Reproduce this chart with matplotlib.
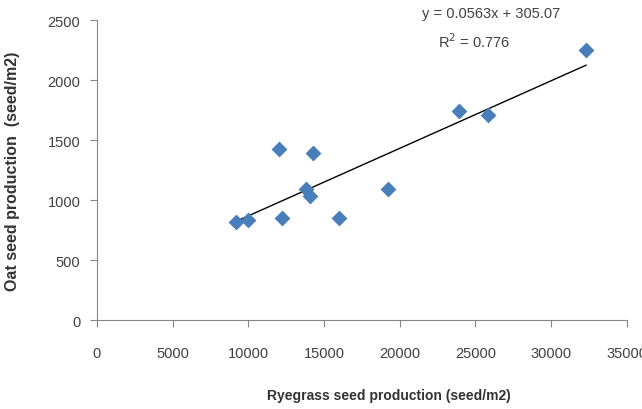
import numpy as np
import matplotlib.pyplot as plt

plt.rcParams['font.family'] = ['Liberation Sans Narrow', 'Liberation Sans', 'DejaVu Sans']

# Ryegrass vs oat seed production (seed/m2)
ryegrass = [9200, 10000, 12000, 12200, 13800, 14100, 14300, 16000, 19200, 23900, 25800, 32300]
oat = [820, 830, 1425, 850, 1090, 1030, 1395, 850, 1090, 1740, 1710, 2250]

# trendline from the chart
slope = 0.0563
intercept = 305.07
r2 = 0.776

fig = plt.figure(figsize=(6.42, 4.10), dpi=100)
ax = fig.add_axes([0.151, 0.217, 0.8255, 0.7317])

ax.scatter(ryegrass, oat, marker='D', s=65, color='#4A7EBB', zorder=3, linewidths=0)

xs = np.array([min(ryegrass), max(ryegrass)])
ax.plot(xs, slope * xs + intercept, color='black', lw=1, zorder=2)

ax.set_xlim(0, 35000)
ax.set_ylim(0, 2500)
ax.set_xticks(np.arange(0, 35001, 5000))
ax.set_yticks(np.arange(0, 2501, 500))

for s in ['top', 'right']:
    ax.spines[s].set_visible(False)
for s in ['left', 'bottom']:
    ax.spines[s].set_color('#868686')
ax.tick_params(colors='#868686', labelcolor='#404040', labelsize=10.5, length=5)
ax.tick_params(axis='x', pad=14)
ax.tick_params(axis='y', pad=7)

ax.set_xlabel('Ryegrass seed production (seed/m2)', fontsize=10, fontweight='bold',
              color='#333333')
ax.set_ylabel('Oat seed production  (seed/m2)', fontsize=11.5, fontweight='bold',
              color='#333333')
ax.xaxis.set_label_coords(0.551, -0.227)
ax.yaxis.set_label_coords(-0.145, 0.5)

ax.text(0.743, 1.023, f'y = {slope}x + {intercept}', transform=ax.transAxes,
        ha='center', va='center', fontsize=10.5, color='#404040')
ax.text(0.711, 0.93, f'R$^2$ = {r2}', transform=ax.transAxes,
        ha='center', va='center', fontsize=10.5, color='#404040')

fig.savefig('out.png', dpi=100)
